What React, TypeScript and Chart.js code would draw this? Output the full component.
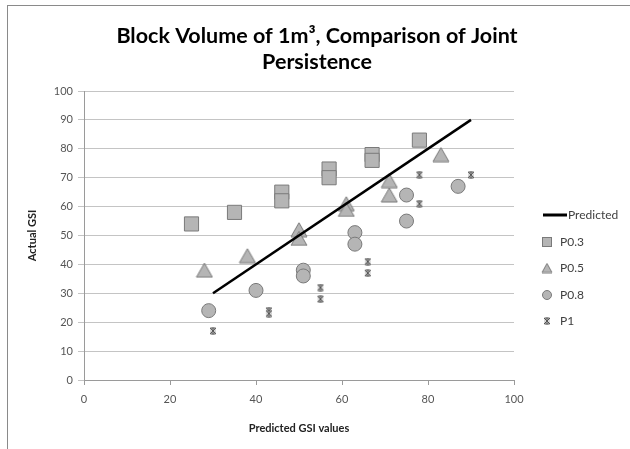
import React, { useEffect, useRef } from "react";
import { Chart, registerables } from "chart.js";

Chart.register(...registerables);

const TITLE_LINES = ["Block Volume of 1m³, Comparison of Joint", "Persistence"];
const X_TITLE = "Predicted GSI values";
const Y_TITLE = "Actual GSI";
const SERIES_NAMES = ["Predicted", "P0.3", "P0.5", "P0.8", "P1"];

const PRED_X = [30, 90];
const PRED_Y = [30, 90];
const P03_X = [25, 35, 46, 46, 57, 57, 67, 67, 78];
const P03_Y = [54, 58, 65, 62, 73, 70, 78, 76, 83];
const P05_X = [28, 38, 50, 50, 61, 61, 71, 71, 83];
const P05_Y = [38, 43, 52, 49, 61, 59, 69, 64, 78];
const P08_X = [29, 40, 51, 51, 63, 63, 75, 75, 87];
const P08_Y = [24, 31, 38, 36, 51, 47, 64, 55, 67];
const P1_X = [30, 43, 43, 55, 55, 66, 66, 78, 78, 90];
const P1_Y = [17, 24, 23, 32, 28, 41, 37, 71, 61, 71];

const X_TICKS = { min: 0, max: 100, step: 20 };
const Y_TICKS = { min: 0, max: 100, step: 10 };

const FILL = "#b5b5b5";
const EDGE = "#7a7a7a";
const FONT = "Lato, 'Open Sans', sans-serif";

function pts(xs: number[], ys: number[]) {
  return xs.map((x, i) => ({ x, y: ys[i] }));
}

function makeTriangle(w: number, h: number): HTMLCanvasElement {
  const c = document.createElement("canvas");
  c.width = w + 2;
  c.height = h + 2;
  const g = c.getContext("2d")!;
  g.beginPath();
  g.moveTo((w + 2) / 2, 1);
  g.lineTo(w + 1, h + 1);
  g.lineTo(1, h + 1);
  g.closePath();
  g.fillStyle = FILL;
  g.fill();
  g.strokeStyle = EDGE;
  g.lineWidth = 1;
  g.stroke();
  return c;
}

function makeStar(s: number): HTMLCanvasElement {
  const c = document.createElement("canvas");
  c.width = s;
  c.height = s;
  const g = c.getContext("2d")!;
  g.fillStyle = "#d8d8d8";
  g.fillRect(1, 1, s - 2, s - 2);
  g.strokeStyle = "#555";
  g.lineWidth = 1;
  g.beginPath();
  g.moveTo(1, 1);
  g.lineTo(s - 1, s - 1);
  g.moveTo(s - 1, 1);
  g.lineTo(1, s - 1);
  g.moveTo(s / 2, 0.5);
  g.lineTo(s / 2, s - 0.5);
  g.moveTo(1.5, 1);
  g.lineTo(s - 1.5, 1);
  g.moveTo(1.5, s - 1);
  g.lineTo(s - 1.5, s - 1);
  g.stroke();
  return c;
}

export default function App() {
  const ref = useRef<HTMLCanvasElement | null>(null);

  useEffect(() => {
    document.body.style.margin = "0";
    const canvas = ref.current;
    if (!canvas) return;

    const tri = makeTriangle(16, 14);
    const star = makeStar(8);
    const triSmall = makeTriangle(10, 9);
    const starSmall = makeStar(8);

    const decor = {
      id: "decor",
      beforeDraw(chart: any) {
        const ctx = chart.ctx;
        ctx.save();
        ctx.fillStyle = "#fff";
        ctx.fillRect(0, 0, chart.width, chart.height);
        ctx.strokeStyle = "#8a8a8a";
        ctx.lineWidth = 1;
        ctx.strokeRect(7.5, 5.5, chart.width + 20, chart.height + 20);
        ctx.restore();
      },
      afterDraw(chart: any) {
        const ctx = chart.ctx;
        ctx.save();
        // title
        ctx.fillStyle = "#000";
        ctx.font = `bold 21.5px ${FONT}`;
        ctx.textAlign = "center";
        ctx.textBaseline = "middle";
        ctx.fillText(TITLE_LINES[0], 317, 36);
        ctx.fillText(TITLE_LINES[1], 317, 62);

        // legend
        const rows = [215, 242, 268, 295, 321];
        const mx = 547;
        const tx = 560;
        ctx.font = `12px ${FONT}`;
        ctx.textAlign = "left";
        ctx.fillStyle = "#404040";
        ctx.strokeStyle = "#000";
        ctx.lineWidth = 3;
        ctx.beginPath();
        ctx.moveTo(543, rows[0]);
        ctx.lineTo(567, rows[0]);
        ctx.stroke();
        ctx.fillText(SERIES_NAMES[0], 568, rows[0]);
        ctx.lineWidth = 1;
        ctx.fillStyle = FILL;
        ctx.strokeStyle = EDGE;
        ctx.fillRect(mx - 4.5, rows[1] - 4.5, 9, 9);
        ctx.strokeRect(mx - 4.5, rows[1] - 4.5, 9, 9);
        ctx.drawImage(triSmall, mx - triSmall.width / 2, rows[2] - triSmall.height / 2);
        ctx.beginPath();
        ctx.arc(mx, rows[3], 4.5, 0, Math.PI * 2);
        ctx.fillStyle = FILL;
        ctx.fill();
        ctx.stroke();
        ctx.drawImage(starSmall, mx - starSmall.width / 2, rows[4] - starSmall.height / 2);
        ctx.fillStyle = "#404040";
        for (let i = 1; i < 5; i++) ctx.fillText(SERIES_NAMES[i], tx, rows[i]);
        ctx.restore();
      },
    };

    const chart = new Chart(canvas, {
      type: "scatter",
      data: {
        datasets: [
          {
            label: SERIES_NAMES[0],
            data: pts(PRED_X, PRED_Y),
            showLine: true,
            borderColor: "#000",
            borderWidth: 2.5,
            pointRadius: 0,
            order: 0,
          },
          {
            label: SERIES_NAMES[1],
            data: pts(P03_X, P03_Y),
            pointStyle: "rect",
            pointRadius: 10,
            backgroundColor: FILL,
            borderColor: EDGE,
            borderWidth: 1,
            order: 1,
          },
          {
            label: SERIES_NAMES[2],
            data: pts(P05_X, P05_Y),
            pointStyle: tri,
            pointRadius: 8,
            backgroundColor: FILL,
            borderColor: EDGE,
            order: 2,
          },
          {
            label: SERIES_NAMES[3],
            data: pts(P08_X, P08_Y),
            pointStyle: "circle",
            pointRadius: 7,
            backgroundColor: FILL,
            borderColor: EDGE,
            borderWidth: 1,
            order: 3,
          },
          {
            label: SERIES_NAMES[4],
            data: pts(P1_X, P1_Y),
            pointStyle: star,
            pointRadius: 4,
            backgroundColor: FILL,
            borderColor: EDGE,
            order: 4,
          },
        ],
      },
      options: {
        animation: false,
        responsive: false,
        events: [],
        layout: { padding: { top: 91, left: 22, right: 116, bottom: 10 } },
        plugins: {
          legend: { display: false },
          tooltip: { enabled: false },
          title: { display: false },
        },
        scales: {
          x: {
            type: "linear",
            min: X_TICKS.min,
            max: X_TICKS.max,
            afterFit: (s: any) => {
              s.height = 59;
            },
            ticks: {
              stepSize: X_TICKS.step,
              color: "#555",
              font: { family: FONT, size: 11 },
              padding: 8,
            },
            grid: {
              drawOnChartArea: false,
              drawTicks: true,
              tickLength: 5,
              color: "#9a9a9a",
            },
            border: { color: "#9a9a9a" },
            title: {
              display: true,
              text: X_TITLE,
              color: "#222",
              font: { family: FONT, size: 11, weight: "bold" },
              padding: { top: 4, bottom: 4 },
            },
          },
          y: {
            type: "linear",
            min: Y_TICKS.min,
            max: Y_TICKS.max,
            afterFit: (s: any) => {
              s.width = 62;
            },
            ticks: {
              stepSize: Y_TICKS.step,
              color: "#555",
              font: { family: FONT, size: 11 },
              padding: 5,
            },
            grid: {
              drawOnChartArea: true,
              drawTicks: true,
              tickLength: 6,
              color: "#c4c4c4",
            },
            border: { color: "#9a9a9a" },
            title: {
              display: true,
              text: Y_TITLE,
              color: "#222",
              font: { family: FONT, size: 11, weight: "bold" },
              padding: { top: 4, bottom: 4 },
            },
          },
        },
      },
      plugins: [decor],
    });

    return () => chart.destroy();
  }, []);

  return (
    <div style={{ width: 630, height: 449 }}>
      <canvas ref={ref} width={630} height={449} style={{ display: "block" }} />
    </div>
  );
}
